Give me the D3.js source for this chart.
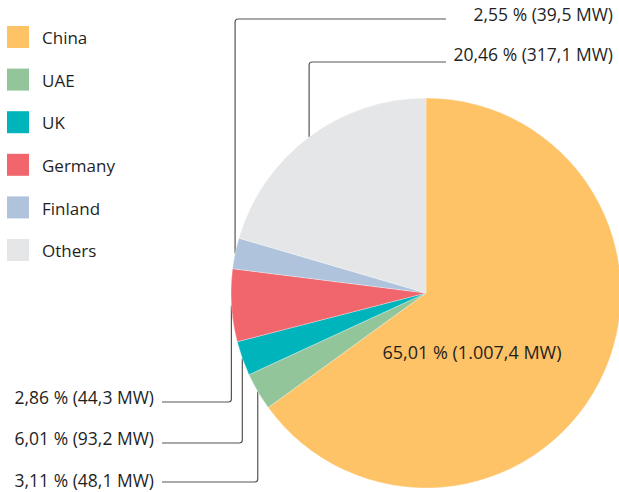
<!DOCTYPE html>
<html>
<head>
<meta charset="utf-8">
<script src="https://cdn.jsdelivr.net/npm/d3@7"></script>
<style>
  body { margin: 0; background: #fff; }
  text { font-family: "Open Sans", sans-serif; fill: #1f1f1f; }
</style>
</head>
<body>
<script>

// Data
var categories = ["China", "UAE", "UK", "Germany", "Finland", "Others"];
var shares = [65.01, 3.11, 2.86, 6.01, 2.55, 20.46];   // percent
var megawatts = [1007.4, 48.1, 44.3, 93.2, 39.5, 317.1];
var colors = ["#fec366", "#93c59a", "#00b4bc", "#f1666d", "#afc4dc", "#e5e6e8"];

// Callouts: which value is printed, and which slice the leader line points at
// (the original chart crosses the UK / Germany pointers, kept as drawn)
var calloutText   = ["Finland", "Others", "UK", "Germany", "UAE"];
var calloutTarget = ["Finland", "Others", "Germany", "UK", "UAE"];

var width = 619, height = 492;
var cx = 426, cy = 293, radius = 195;

var de = d3.formatLocale({decimal: ",", thousands: ".", grouping: [3], currency: ["", " €"]});
var fmtPct = de.format(".2f");
var fmtMW = de.format(",.1f");
function labelFor(i) {
  return fmtPct(shares[i]) + " % (" + fmtMW(megawatts[i]) + " MW)";
}

var data = categories.map(function(c, i) { return {name: c, share: shares[i], color: colors[i], i: i}; });

var svg = d3.select("body").append("svg")
    .attr("width", width)
    .attr("height", height);

// Legend
var legendY = d3.scalePoint().domain(categories).range([37, 250]);
var legend = svg.append("g").selectAll("g")
    .data(data)
    .enter().append("g")
    .attr("transform", function(d) { return "translate(7," + legendY(d.name) + ")"; });
legend.append("rect")
    .attr("x", 0).attr("y", -11)
    .attr("width", 22).attr("height", 22)
    .attr("fill", function(d) { return d.color; });
legend.append("text")
    .attr("x", 35).attr("y", 1)
    .attr("dy", "0.36em")
    .style("font-size", "17px")
    .text(function(d) { return d.name; });

// Pie layout, starting at 12 o'clock, clockwise, in data order
var pie = d3.pie().sort(null).value(function(d) { return d.share; });
var arcs = pie(data);
var arc = d3.arc().innerRadius(0).outerRadius(radius);

function edgePoint(name) {
  var a = arcs[categories.indexOf(name)];
  var mid = (a.startAngle + a.endAngle) / 2;
  return [cx + radius * Math.sin(mid), cy - radius * Math.cos(mid)];
}

// Leader lines (drawn under the pie)
var rows = [
  {textY: 15,  lineY: 19,  side: "top"},
  {textY: 55,  lineY: 62,  side: "top"},
  {textY: 398, lineY: 402, side: "bottom"},
  {textY: 439, lineY: 443, side: "bottom"},
  {textY: 481, lineY: 482, side: "bottom"}
];

var r = 3; // corner radius
var lines = svg.append("g");
var labels = svg.append("g");
rows.forEach(function(row, k) {
  var p = edgePoint(calloutTarget[k]);
  var xv = p[0], yEnd = p[1];
  var path = d3.path();
  if (row.side === "top") {
    path.moveTo(446, row.lineY);
    path.lineTo(xv + r, row.lineY);
    path.quadraticCurveTo(xv, row.lineY, xv, row.lineY + r);
    path.lineTo(xv, yEnd);
  } else {
    path.moveTo(162, row.lineY);
    path.lineTo(xv - r, row.lineY);
    path.quadraticCurveTo(xv, row.lineY, xv, row.lineY - r);
    path.lineTo(xv, yEnd);
  }
  lines.append("path")
      .attr("d", path.toString())
      .attr("fill", "none")
      .attr("stroke", "#555")
      .attr("stroke-width", 1.2);

  labels.append("text")
      .attr("x", row.side === "top" ? 613 : 154)
      .attr("y", row.textY)
      .attr("dy", "0.36em")
      .attr("text-anchor", "end")
      .style("font-size", "17.5px")
      .text(labelFor(categories.indexOf(calloutText[k])));
});

// Pie slices
var g = svg.append("g").attr("transform", "translate(" + cx + "," + cy + ")");
g.selectAll("path")
    .data(arcs)
    .enter().append("path")
    .attr("d", arc)
    .attr("fill", function(d) { return d.data.color; })
    .attr("stroke", "#fff")
    .attr("stroke-width", 0.3);

// Label inside the China slice
g.append("text")
    .attr("x", 46).attr("y", 60)
    .attr("dy", "0.36em")
    .attr("text-anchor", "middle")
    .style("font-size", "18px")
    .text(labelFor(0));

</script>
</body>
</html>
